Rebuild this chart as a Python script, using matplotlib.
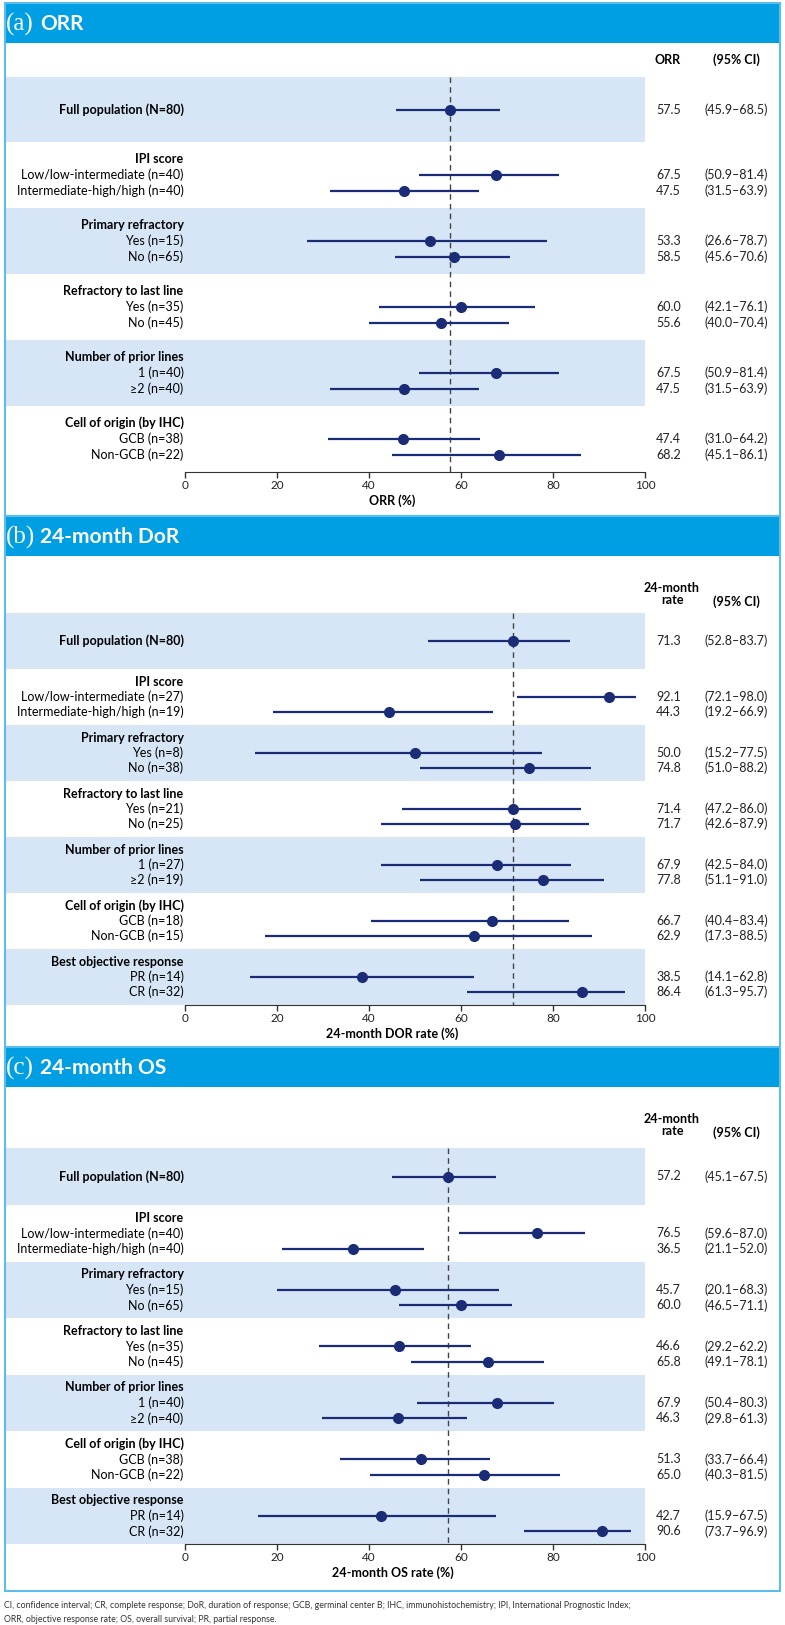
import matplotlib.pyplot as plt
from matplotlib.patches import Rectangle

plt.rcParams['font.family'] = ['Lato', 'DejaVu Sans']

# ---- data ----
group_titles = ['IPI score', 'Primary refractory', 'Refractory to last line',
                'Number of prior lines', 'Cell of origin (by IHC)', 'Best objective response']

orr_labels = ['Low/low-intermediate (n=40)', 'Intermediate-high/high (n=40)',
              'Yes (n=15)', 'No (n=65)', 'Yes (n=35)', 'No (n=45)',
              '1 (n=40)', '\u22652 (n=40)', 'GCB (n=38)', 'Non-GCB (n=22)']
orr_est = [57.5, 67.5, 47.5, 53.3, 58.5, 60.0, 55.6, 67.5, 47.5, 47.4, 68.2]
orr_lo = [45.9, 50.9, 31.5, 26.6, 45.6, 42.1, 40.0, 50.9, 31.5, 31.0, 45.1]
orr_hi = [68.5, 81.4, 63.9, 78.7, 70.6, 76.1, 70.4, 81.4, 63.9, 64.2, 86.1]

dor_labels = ['Low/low-intermediate (n=27)', 'Intermediate-high/high (n=19)',
              'Yes (n=8)', 'No (n=38)', 'Yes (n=21)', 'No (n=25)',
              '1 (n=27)', '\u22652 (n=19)', 'GCB (n=18)', 'Non-GCB (n=15)',
              'PR (n=14)', 'CR (n=32)']
dor_est = [71.3, 92.1, 44.3, 50.0, 74.8, 71.4, 71.7, 67.9, 77.8, 66.7, 62.9, 38.5, 86.4]
dor_lo = [52.8, 72.1, 19.2, 15.2, 51.0, 47.2, 42.6, 42.5, 51.1, 40.4, 17.3, 14.1, 61.3]
dor_hi = [83.7, 98.0, 66.9, 77.5, 88.2, 86.0, 87.9, 84.0, 91.0, 83.4, 88.5, 62.8, 95.7]

os_labels = ['Low/low-intermediate (n=40)', 'Intermediate-high/high (n=40)',
             'Yes (n=15)', 'No (n=65)', 'Yes (n=35)', 'No (n=45)',
             '1 (n=40)', '\u22652 (n=40)', 'GCB (n=38)', 'Non-GCB (n=22)',
             'PR (n=14)', 'CR (n=32)']
os_est = [57.2, 76.5, 36.5, 45.7, 60.0, 46.6, 65.8, 67.9, 46.3, 51.3, 65.0, 42.7, 90.6]
os_lo = [45.1, 59.6, 21.1, 20.1, 46.5, 29.2, 49.1, 50.4, 29.8, 33.7, 40.3, 15.9, 73.7]
os_hi = [67.5, 87.0, 52.0, 68.3, 71.1, 62.2, 78.1, 80.3, 61.3, 66.4, 81.5, 67.5, 96.9]

footnote = ['CI, confidence interval; CR, complete response; DoR, duration of response; '
            'GCB, germinal center B; IHC, immunohistochemistry; IPI, International Prognostic Index;',
            'ORR, objective response rate; OS, overall survival; PR, partial response.']

# ---- style ----
W, H = 785, 1625
HEAD = '#009FE3'
EDGE = '#5BBDEB'
BAND = '#D6E6F6'
NAVY = '#1B2C77'
FS = 9
PX0, PX100 = 185, 645              # pixel x of 0 and 100 on the axis
scale = (PX100 - PX0) / 100
X0 = (5 - PX0) / scale
X1 = (780 - PX0) / scale

fig = plt.figure(figsize=(W / 100, H / 100), dpi=100)


def px(x):
    return (x - PX0) / scale


def panel(top, bottom, axis_y, band_top, fp_h, grp_h, sp, hdr_y,
          letter, title, colhdr, xlabel, labels, est, lo, hi):
    hb = top + 40
    fig.add_artist(Rectangle((5 / W, 1 - hb / H), 775 / W, 40 / H,
                             transform=fig.transFigure, color=HEAD, lw=0))
    fig.add_artist(Rectangle((5 / W, 1 - bottom / H), 775 / W, (bottom - top) / H,
                             transform=fig.transFigure, fill=False, ec=EDGE, lw=1.5))
    fig.text(6 / W, 1 - (top + 21) / H, f'({letter})', family='Liberation Serif',
             fontsize=18, color='white', va='center')
    fig.text(40 / W, 1 - (top + 21) / H, title, fontsize=15, fontweight='bold',
             color='white', va='center')

    ax = fig.add_axes([5 / W, 1 - axis_y / H, 775 / W, (axis_y - hb) / H])
    ax.set_xlim(X0, X1)
    ax.set_ylim(axis_y, hb)
    ax.patch.set_alpha(0)
    for s in ['left', 'top', 'right']:
        ax.spines[s].set_visible(False)
    ax.spines['bottom'].set_bounds(0, 100)
    ax.spines['bottom'].set_color('#333333')
    ax.set_yticks([])
    ax.set_xticks([0, 20, 40, 60, 80, 100])
    ax.tick_params(axis='x', length=4, width=1, labelsize=8.5, pad=2,
                   colors='#333333', labelcolor='#222222')
    ax.set_xlabel(xlabel, fontsize=FS, fontweight='bold', labelpad=2)

    xband = (100 - X0) / (X1 - X0)
    ngroups = (len(est) - 1) // 2

    # column headers
    if colhdr == 'ORR':
        ax.text(px(681), hdr_y, colhdr, ha='right', va='center', fontsize=FS, fontweight='bold')
    else:
        ax.text(px(672), hdr_y - 8, colhdr, ha='center', va='center', fontsize=FS,
                fontweight='bold', linespacing=1.0)
    ax.text(px(736), hdr_y, '(95% CI)', ha='center', va='center', fontsize=FS, fontweight='bold')

    # rows: full population first, then groups of two
    ys = [band_top + fp_h / 2]
    ax.axhspan(band_top, band_top + fp_h, xmin=0, xmax=xband, color=BAND, lw=0, zorder=0)
    ax.text(-0.3, ys[0], 'Full population (N=80)', ha='right', va='center',
            fontsize=FS, fontweight='bold')
    for g in range(ngroups):
        gtop = band_top + fp_h + g * grp_h
        c = gtop + grp_h / 2
        if g % 2 == 1:
            ax.axhspan(gtop, gtop + grp_h, xmin=0, xmax=xband, color=BAND, lw=0, zorder=0)
        ax.text(-0.3, c - sp, group_titles[g], ha='right', va='center',
                fontsize=FS, fontweight='bold')
        for k in range(2):
            ys.append(c + k * sp)
            ax.text(-0.3, c + k * sp, labels[2 * g + k], ha='right', va='center', fontsize=FS)

    ax.vlines(est[0], band_top, axis_y, colors='#444444', lw=1,
              linestyles=(0, (4, 3)), zorder=1)
    ax.hlines(ys, lo, hi, colors=NAVY, lw=1.6, zorder=2)
    ax.plot(est, ys, 'o', color=NAVY, ms=7, zorder=3)
    for y, e, l, h in zip(ys, est, lo, hi):
        ax.text(px(681), y, f'{e:.1f}', ha='right', va='center', fontsize=FS, color='#222222')
        ax.text(px(736), y, f'({l:.1f}\u2013{h:.1f})', ha='center', va='center',
                fontsize=FS, color='#222222')
    return ax


panel(3, 516, 472, 77, 65, 66, 16, 60, 'a', 'ORR', 'ORR', 'ORR (%)',
      orr_labels, orr_est, orr_lo, orr_hi)
panel(516, 1047, 1005, 613, 56, 56, 15, 602, 'b', '24-month DoR', '24-month\nrate',
      '24-month DOR rate (%)', dor_labels, dor_est, dor_lo, dor_hi)
panel(1047, 1591, 1544, 1148, 57, 56.5, 15.5, 1133, 'c', '24-month OS', '24-month\nrate',
      '24-month OS rate (%)', os_labels, os_est, os_lo, os_hi)

fig.text(4 / W, 1 - 1606 / H, footnote[0], fontsize=6.3, color='#333333', va='center')
fig.text(4 / W, 1 - 1619 / H, footnote[1], fontsize=6.3, color='#333333', va='center')

fig.savefig('out.png', dpi=100)
